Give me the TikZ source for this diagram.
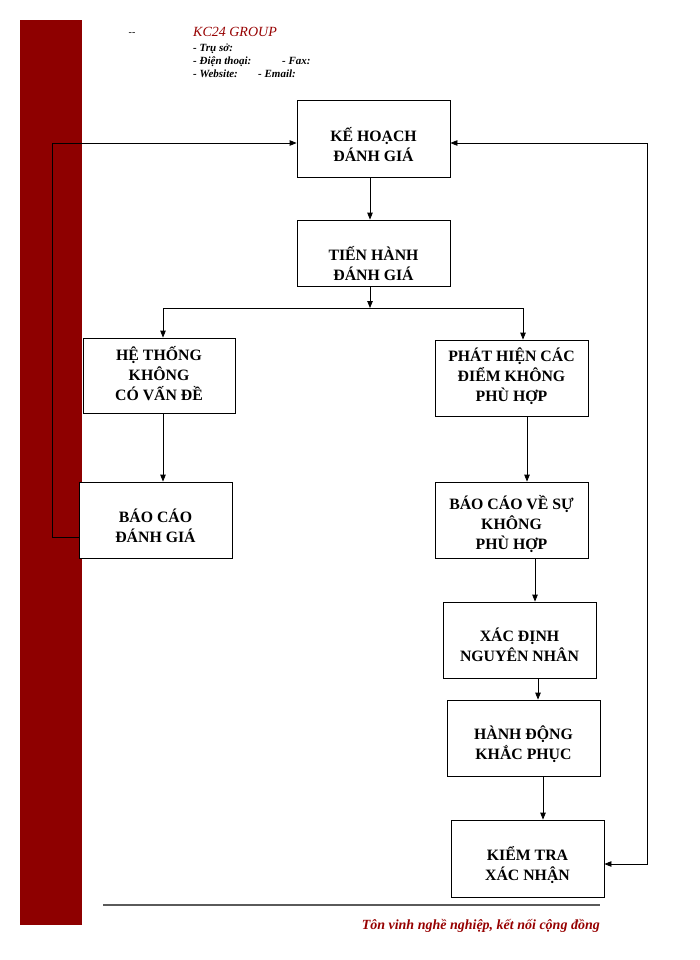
\documentclass[tikz,border=0pt]{standalone}
\usepackage{fontspec}
\setmainfont{Liberation Serif}
\usetikzlibrary{arrows.meta,calc}
\definecolor{barred}{RGB}{142,0,0}
\definecolor{headred}{RGB}{150,0,0}
\definecolor{rulegray}{RGB}{90,90,90}
\begin{document}
\begin{tikzpicture}[x=1pt,y=-1pt,
  box/.style={draw=black,line width=0.8pt,fill=white,rectangle,minimum width=153pt,minimum height=76pt,inner sep=0pt},
  lbl/.style={align=center,font=\fontsize{15.8}{20}\selectfont\bfseries,inner sep=0pt},
  conn/.style={line width=0.8pt,-{Triangle[length=7pt,width=5.5pt]}},
  plain/.style={line width=0.8pt},
  hdr/.style={anchor=base west,inner sep=0pt,font=\fontsize{11}{12}\selectfont\bfseries\itshape},
]
\useasboundingbox (0,0) rectangle (700,960);
% red side bar
\fill[barred] (20,20) rectangle (82,925);

% header
\node[anchor=base,inner sep=0pt,font=\fontsize{10}{12}\selectfont] (dash) at (132,36) {-{}-};
\node[anchor=base west,inner sep=0pt,text=headred,font=\fontsize{14}{16}\selectfont\itshape] (grp) at (193,37) {KC24 GROUP};
\node[hdr] (h1) at (193,52) {- Trụ sở:};
\node[hdr] (h2) at (193,65) {- Điện thoại:};
\node[hdr] (h2b) at (282,65) {- Fax:};
\node[hdr] (h3) at (193,78) {- Website:};
\node[hdr] (h3b) at (258,78) {- Email:};

% boxes
\node[box,minimum height=77pt] (b1) at (373.5,138.5) {};
\node[box,minimum height=66pt] (b2) at (373.5,253) {};
\node[box,minimum width=152pt,minimum height=75pt] (b3) at (159,375.5) {};
\node[box] (b4) at (511.5,378) {};
\node[box] (b5) at (155.5,520) {};
\node[box] (b6) at (511.5,520) {};
\node[box] (b7) at (519.5,640) {};
\node[box] (b8) at (523.5,738) {};
\node[box,minimum height=77pt] (b9) at (527.5,858.5) {};

% labels
\node[lbl] (t1) at ([yshift=-6pt]b1.center) {KẾ HOẠCH\\ĐÁNH GIÁ};
\node[lbl] (t2) at ([yshift=-11pt]b2.center) {TIẾN HÀNH\\ĐÁNH GIÁ};
\node[lbl] (t3) at ([yshift=2pt]b3.center) {HỆ THỐNG\\KHÔNG\\CÓ VẤN ĐỀ};
\node[lbl] (t4) at ([yshift=2pt]b4.center) {PHÁT HIỆN CÁC\\ĐIỂM KHÔNG\\PHÙ HỢP};
\node[lbl] (t5) at ([yshift=-6pt]b5.center) {BÁO CÁO\\ĐÁNH GIÁ};
\node[lbl] (t6) at ([yshift=-4pt]b6.center) {BÁO CÁO VỀ SỰ\\KHÔNG\\PHÙ HỢP};
\node[lbl] (t7) at ([yshift=-5pt]b7.center) {XÁC ĐỊNH\\NGUYÊN NHÂN};
\node[lbl] (t8) at ([yshift=-6pt]b8.center) {HÀNH ĐỘNG\\KHẮC PHỤC};
\node[lbl] (t9) at ([yshift=-7pt]b9.center) {KIỂM TRA\\XÁC NHẬN};

% connectors
\coordinate (j) at (370,308);
\coordinate (jl) at (163,308);
\coordinate (jr) at (523,308);
\draw[conn] ([xshift=-3.5pt]b1.south) -- ([xshift=-3.5pt]b2.north);
\draw[conn] ([xshift=-3.5pt]b2.south) -- (j);
\draw[plain] (jl) -- (jr);
\draw[conn] (jl) -- (jl |- b3.north);
\draw[conn] (jr) -- (jr |- b4.north);
\draw[conn] ([xshift=4pt]b3.south) -- ([xshift=7.5pt]b5.north);
\draw[conn] ([xshift=15.5pt]b4.south) -- ([xshift=15.5pt]b6.north);
\draw[conn] ([xshift=23.5pt]b6.south) -- ([xshift=15.5pt]b7.north);
\draw[conn] ([xshift=18.5pt]b7.south) -- ([xshift=14.5pt]b8.north);
\draw[conn] ([xshift=19.5pt]b8.south) -- ([xshift=15.5pt]b9.north);

% left feedback loop
\coordinate (ll) at (52,537);
\draw[conn] ([yshift=-17pt]b5.west) -- (ll) |- ([yshift=-4.5pt]b1.west);
% right feedback loop
\coordinate (rr) at (647,143);
\draw[line width=0.8pt,{Triangle[length=7pt,width=5.5pt]}-{Triangle[length=7pt,width=5.5pt]}] ([yshift=-4.5pt]b1.east) -- (rr) |- ([yshift=-5.5pt]b9.east);

% footer
\coordinate (fl) at (103,905);
\coordinate (fr) at (600,905);
\draw[rulegray,line width=2pt] (fl) -- (fr);
\node[anchor=base east,inner sep=0pt,text=headred,font=\fontsize{14}{16}\selectfont\bfseries\itshape] (foot) at (600,929) {Tôn vinh nghề nghiệp, kết nối cộng đồng};
\end{tikzpicture}
\end{document}
